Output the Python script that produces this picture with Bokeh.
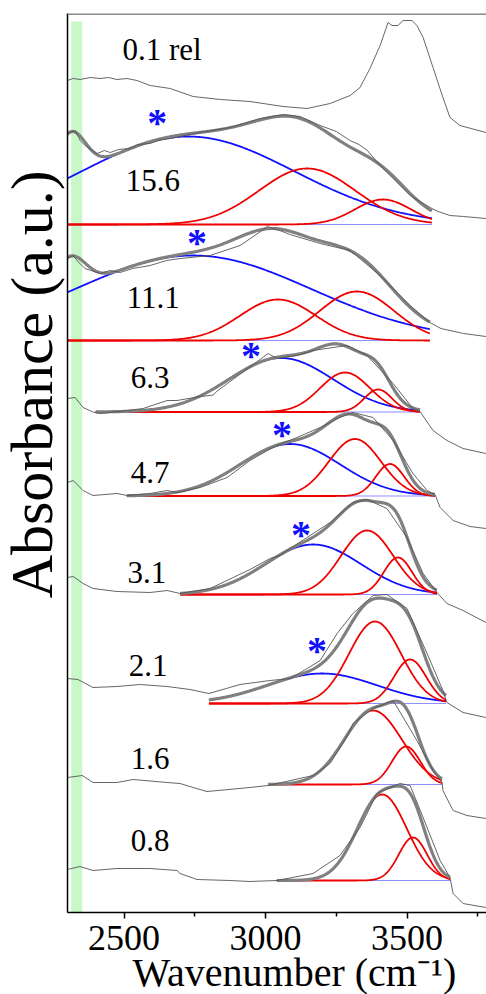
import numpy as np
from bokeh.plotting import figure
from bokeh.layouts import column, row
from bokeh.models import Range1d, FixedTicker, BoxAnnotation, Span
from bokeh.core.properties import value
from bokeh.embed import file_html
from bokeh.resources import INLINE

# ---------------- data (wavenumber in cm-1, absorbance in arbitrary stacked units) ----------
labels = ["0.1 rel", "15.6", "11.1", "6.3", "4.7", "3.1", "2.1", "1.6", "0.8"]
baselines = [780, 688, 572, 500.5, 416.5, 318, 209, 128, 32]

# raw spectra (wavenumber, height above each baseline)
raw_wn_rel = [2300, 2320, 2345, 2380, 2415, 2445, 2475, 2510, 2546, 2592, 2663, 2744, 2840, 2945, 3062, 3147,
              3228, 3299, 3334, 3369, 3405, 3433, 3447, 3468, 3486, 3518, 3535, 3557, 3592, 3627, 3652, 3687, 3779]
raw_y_rel = [52, 54, 53, 55, 54, 55, 53, 54, 52, 47, 44, 36, 33, 31, 26, 24,
             29, 37, 45, 64, 87, 110, 107, 107, 112, 112, 107, 95, 65, 35, 15, 7, 0]

raw_wn_156 = [2300, 2327, 2345, 2362, 2405, 2430, 2451, 2480, 2521, 2550, 2592, 2620, 2663, 2769, 2875, 2981,
              3062, 3122, 3193, 3250, 3299, 3330, 3360, 3405, 3511, 3588, 3610, 3652, 3700, 3779]
raw_y_156 = [91, 94, 84, 79, 71, 74, 72, 75, 76, 80, 81, 84, 86, 92, 97, 106,
             110, 108, 99, 93, 84, 80, 74, 59, 29, 16, 13, 9, 8, 6]

raw_wn_111 = [2300, 2320, 2340, 2362, 2415, 2450, 2486, 2530, 2592, 2650, 2698, 2804, 2910, 2998, 3009, 3016,
              3050, 3087, 3193, 3299, 3405, 3511, 3581, 3620, 3652, 3700, 3779]
raw_y_111 = [82, 85, 78, 72, 67, 70, 68, 72, 75, 80, 82, 85, 95, 112, 115, 113,
             110, 106, 97, 90, 65, 35, 18, 12, 10, 7, 4]

raw_wn_63 = [2300, 2327, 2355, 2390, 2415, 2511, 2567, 2652, 2687, 2758, 2815, 2829, 2935, 3009, 3041, 3111,
             3168, 3239, 3288, 3359, 3451, 3521, 3546, 3592, 3641, 3698, 3779]
raw_y_63 = [13.5, 14.5, 4.5, 0, -1.5, 1.5, 3.5, 11.5, 11.5, 15, 17, 21, 43, 58.5, 53.5, 56.5,
            61.5, 64.5, 66.5, 56.5, 28.5, 3.5, 0.5, -18.5, -28.5, -36.5, -41.5]

raw_wn_47 = [2300, 2320, 2355, 2390, 2475, 2511, 2592, 2652, 2687, 2769, 2864, 2945, 3016, 3041, 3111, 3193,
             3263, 3309, 3380, 3451, 3521, 3571, 3599, 3617, 3663, 3723, 3779]
raw_y_47 = [13.5, 15.5, 5.5, 0.5, 2.5, 0.5, 2.5, 5.5, 3.5, 8.5, 18.5, 35.5, 47, 50.5, 58.5, 68.5,
            78.5, 83.5, 78.5, 55.5, 22.5, 5.5, 1.5, -11.5, -24.5, -30.5, -32.5]

raw_wn_31 = [2300, 2320, 2355, 2390, 2475, 2592, 2652, 2698, 2804, 2945, 3016, 3051, 3087, 3228, 3309, 3359,
             3429, 3500, 3557, 3606, 3641, 3698, 3779]
raw_y_31 = [17, 18, 11, 6, 3, 2, 4, 1, 6, 25, 36, 39, 46, 72, 92, 95,
            86, 57, 21, 2, -9, -16, -28]

raw_wn_21 = [2300, 2337, 2390, 2475, 2557, 2652, 2733, 2800, 2910, 3016, 3087, 3147, 3193, 3253, 3309, 3380,
             3429, 3500, 3571, 3627, 3641, 3698, 3779]
raw_y_21 = [25, 24, 16, 17, 19, 17, 14, 10, 19, 23, 25, 35, 43, 70, 90, 108,
            109, 95, 50, 13, 1, -9, -14]

raw_wn_16 = [2300, 2352, 2390, 2475, 2532, 2652, 2698, 2744, 2793, 2945, 3009, 3168, 3228, 3288, 3309, 3380,
             3451, 3535, 3592, 3624, 3627, 3663, 3712, 3779]
raw_y_16 = [7, 9, 2, 2, 5, 2, 1, -3, -7, -3, -1, 9, 21, 48, 61, 76,
            84, 44, 14, 2, -6, -26, -31, -34]

raw_wn_08 = [2300, 2344, 2390, 2475, 2592, 2687, 2698, 2758, 2875, 2945, 3041, 3168, 3263, 3334, 3394, 3440,
             3475, 3511, 3557, 3617, 3652, 3663, 3698, 3779]
raw_y_08 = [11, 14, 10, 12, 12, 10, 7, 1, 0, -1, 0, 7, 25, 53, 87, 93,
            97, 95, 63, 20, 3, -13, -23, -27]

raw_wn = [raw_wn_rel, raw_wn_156, raw_wn_111, raw_wn_63, raw_wn_47, raw_wn_31, raw_wn_21, raw_wn_16, raw_wn_08]
raw_y = [raw_y_rel, raw_y_156, raw_y_111, raw_y_63, raw_y_47, raw_y_31, raw_y_21, raw_y_16, raw_y_08]

# fitted Gaussian components: (center, sigma, height) ; fit ranges
fit_start = [None, 2290, 2290, 2400, 2510, 2698, 2800, 3010, 3040]
fit_end = [None, 3588, 3581, 3546, 3599, 3606, 3638, 3624, 3652]
blue_comp = [None, (2726, 375, 88), (2744, 417, 85), (3055, 184, 54), (3087, 177, 52),
             (3168, 170, 50), (3200, 194, 30), None, None]
red_comp = [None,
            [(3147, 170, 56), (3415, 99, 25)],
            [(3044, 134, 41), (3323, 131, 49)],
            [(3281, 88, 39.5), (3398, 49, 22.5)],
            [(3316, 92, 57), (3440, 50, 32)],
            [(3359, 92, 64), (3468, 50, 37)],
            [(3387, 92, 82), (3511, 57, 44)],
            [(3380, 102, 74), (3497, 50, 38)],
            [(3412, 87, 86), (3521, 50, 43)]]
# component below the plotted range (contributes to the fit only)
edge_comp = [None, (2309, 53, 45), (2306, 57, 35), None, None, None, None, None, None]

star_wn = [2617, 2758, 2949, 3058, 3125, 3182]
star_y = [797, 677, 564, 485, 385, 269]

label_wn = [2634, 2602, 2603, 2592, 2592, 2581, 2585, 2592, 2592]
label_y = [863, 732, 615, 535, 440, 340, 247, 154, 72]

x_ticks = [2500, 3000, 3500]
x_minor = [2750, 3250, 3750]
x_tick_labels = ["2500", "3000", "3500"]
x_title = "Wavenumber (cm\u207b\u00b9)"
y_title = "Absorbance (a.u.)"

SERIF = "Liberation Serif"
X_LO, X_HI = 2300, 3781

# ---------------- main plot ----------------
p = figure(width=421, height=919, x_range=Range1d(X_LO, X_HI), y_range=Range1d(0, 899),
           output_backend="svg", toolbar_location=None, title=None,
           min_border_left=2, min_border_right=0, min_border_top=13, min_border_bottom=7)
p.xgrid.visible = False
p.ygrid.visible = False
p.outline_line_color = None

p.add_layout(BoxAnnotation(left=2313, right=2352, bottom=0, top=891,
                           fill_color="#c8f7c8", fill_alpha=1.0, line_color=None, level="underlay"))
p.add_layout(Span(location=899, dimension="width", line_color="#8a8a8a", line_width=3))


def gauss(x, c, s, a):
    return a * np.exp(-(x - c) ** 2 / (2.0 * s ** 2))


for i in range(len(labels)):
    base = baselines[i]
    if fit_start[i] is not None:
        xs = np.linspace(fit_start[i], fit_end[i], 500)
        total = np.zeros_like(xs)
        p.line([fit_start[i], fit_end[i]], [base, base], line_color="#8f8fff", line_width=1)
        if edge_comp[i] is not None:
            total += gauss(xs, *edge_comp[i])
        if blue_comp[i] is not None:
            g = gauss(xs, *blue_comp[i])
            total += g
            p.line(xs, g + base, line_color="#1010ff", line_width=1.8)
        for rc in red_comp[i]:
            g = gauss(xs, *rc)
            total += g
            p.line(xs, g + base, line_color="#ee0000", line_width=1.8)
        p.line(xs, total + base, line_color="#808080", line_width=3.2)
    p.line(np.array(raw_wn[i]), np.array(raw_y[i]) + base, line_color="#555555", line_width=0.9)

p.text(x=label_wn, y=label_y, text=labels, text_font=value(SERIF), text_font_size="31px",
       text_color="black", text_align="center", text_baseline="middle")
p.text(x=star_wn, y=star_y, text=["*"] * len(star_wn), text_font=value(SERIF), text_font_style="bold",
       text_font_size="40px", text_color="#1010ff", text_align="center", text_baseline="middle",
       y_offset=7)

xa = p.xaxis[0]
xa.ticker = FixedTicker(ticks=x_ticks, minor_ticks=x_minor)
xa.major_label_text_font_size = "0px"
xa.major_label_text_color = None
xa.major_label_standoff = 0
xa.major_tick_out = 6
xa.major_tick_in = 0
xa.minor_tick_out = 4
xa.minor_tick_in = 0
xa.axis_line_width = 1.5
xa.major_tick_line_width = 1.5
xa.minor_tick_line_width = 1.5

ya = p.yaxis[0]
ya.ticker = FixedTicker(ticks=[])
ya.major_label_text_font_size = "0px"
ya.major_label_text_color = None
ya.major_label_standoff = 0
ya.major_tick_out = 0
ya.minor_tick_out = 0
ya.axis_line_width = 1.5

# ---------------- y title panel ----------------
fy = figure(width=65, height=919, x_range=Range1d(0, 65), y_range=Range1d(0, 919),
            output_backend="svg", toolbar_location=None, title=None, x_axis_type=None, y_axis_type=None,
            min_border_left=0, min_border_right=0, min_border_top=0, min_border_bottom=0)
fy.outline_line_color = None
fy.grid.visible = False
fy.text(x=[31], y=[540], text=[y_title], text_font=value(SERIF), text_font_size="60px",
        text_color="black", text_align="center", text_baseline="middle", angle=np.pi / 2)

# ---------------- x tick labels + title panel ----------------
fx = figure(width=486, height=75, x_range=p.x_range, y_range=Range1d(0, 75),
            output_backend="svg", toolbar_location=None, title=None, x_axis_type=None, y_axis_type=None,
            min_border_left=67, min_border_right=0, min_border_top=0, min_border_bottom=0)
fx.outline_line_color = None
fx.grid.visible = False
fx.text(x=x_ticks, y=[57] * len(x_ticks), text=x_tick_labels, text_font=value(SERIF),
        text_font_size="36px", text_color="black", text_align="center", text_baseline="middle")
fx.text(x=[3102], y=[22], text=[x_title], text_font=value(SERIF), text_font_size="40px",
        text_color="black", text_align="center", text_baseline="middle")

layout = column(row(fy, p, spacing=0), fx, spacing=0)
open("out.html", "w").write(file_html(layout, INLINE))
